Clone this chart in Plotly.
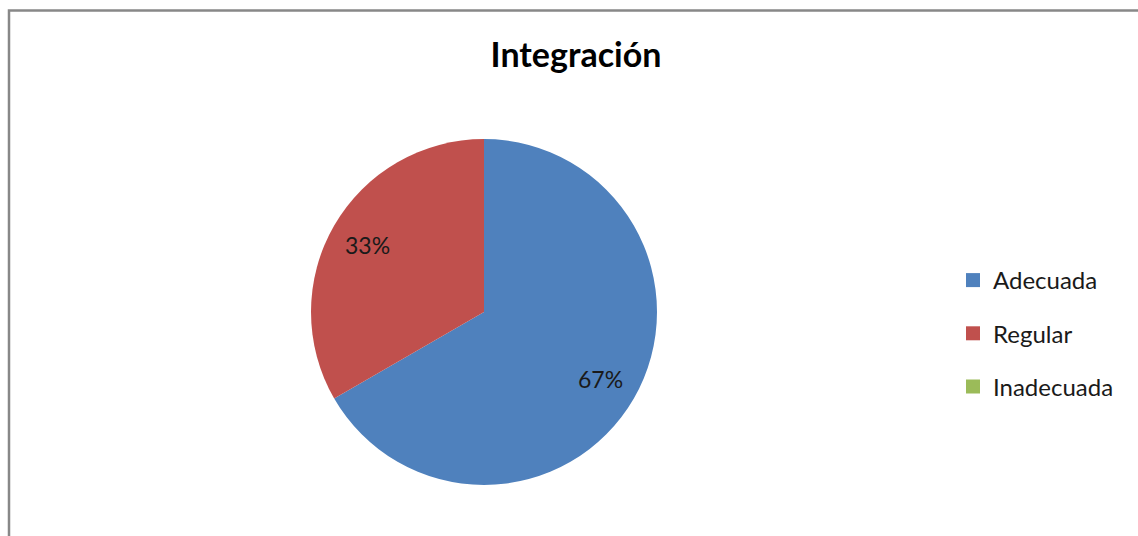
import math
import plotly.graph_objects as go

# ---- data ----
categories = ["Adecuada", "Regular", "Inadecuada"]
values = [2, 1, 0]
colors = ["#4F81BD", "#C0504D", "#9BBB59"]
title_text = "Integración"

# ---- layout constants (pixels) ----
W, H = 1138, 536
cx, cy, r = 484, 312, 173
label_frac = 0.78
FONT = "Lato"

fig = go.Figure()
fig.add_trace(go.Pie(
    labels=categories, values=values, sort=False, direction="clockwise", rotation=0,
    marker=dict(colors=colors, line=dict(width=0)),
    textinfo="none", hoverinfo="label+percent", showlegend=False,
    domain=dict(x=[(cx - r) / W, (cx + r) / W], y=[1 - (cy + r) / H, 1 - (cy - r) / H]),
))

# legend entries (dummy traces so item spacing can be controlled)
for cat, col in zip(categories, colors):
    fig.add_trace(go.Scatter(x=[None], y=[None], mode="markers", name=cat, legendgroup=cat,
                             marker=dict(symbol="square", size=14, color=col)))

# percentage labels placed along each slice's bisector
total = sum(values)
cum = 0
annotations = []
for v in values:
    if v > 0:
        a = math.radians((cum + v / 2) / total * 360)
        px = cx + label_frac * r * math.sin(a)
        py = cy - label_frac * r * math.cos(a)
        annotations.append(dict(x=px / W, y=1 - py / H, xref="paper", yref="paper",
                                text=f"{round(100 * v / total)}%", showarrow=False,
                                font=dict(family=FONT, size=23, color="#1a1a1a"),
                                xanchor="center", yanchor="middle"))
    cum += v

fig.update_layout(
    width=W, height=H, margin=dict(l=0, r=0, t=0, b=0),
    paper_bgcolor="white", plot_bgcolor="white",
    title=dict(text=f"<b>{title_text}</b>", x=576 / W, xanchor="center", y=1 - 55 / H, yanchor="middle",
               font=dict(family=FONT, size=34, color="#000000")),
    xaxis=dict(visible=False), yaxis=dict(visible=False),
    legend=dict(x=953 / W, xanchor="left", y=1 - 258 / H, yanchor="top", tracegroupgap=19,
                font=dict(family=FONT, size=24, color="#1a1a1a"), bgcolor="rgba(0,0,0,0)"),
    annotations=annotations,
    shapes=[dict(type="rect", xref="paper", yref="paper", x0=9 / W, x1=1.05, y0=-0.05, y1=1 - 10.5 / H,
                 line=dict(color="#888888", width=2.5), fillcolor="rgba(0,0,0,0)", layer="above")],
)

fig.write_html("out.html", config={"displayModeBar": False},
               post_script="document.body.style.margin='0';")
